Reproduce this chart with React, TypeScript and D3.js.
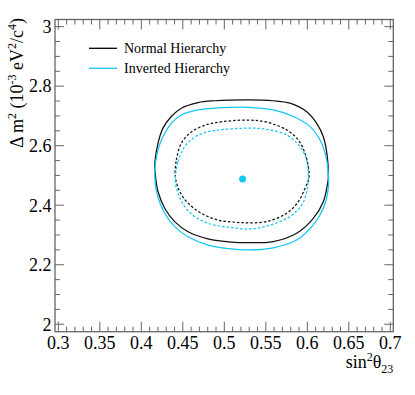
import React from "react";
import * as d3 from "d3";

// contour points: [sin^2 theta23, dm^2 (1e-3 eV^2)]
const normal90: [number, number][] = [
  [0.4169, 2.502], [0.4161, 2.53], [0.4201, 2.608], [0.4261, 2.659], [0.4361, 2.698],
  [0.4482, 2.726], [0.4683, 2.745], [0.4884, 2.751], [0.5286, 2.754], [0.559, 2.751],
  [0.5792, 2.743], [0.5993, 2.714], [0.6113, 2.675], [0.6193, 2.63], [0.6241, 2.563],
  [0.6253, 2.491], [0.6241, 2.468], [0.6193, 2.412], [0.6072, 2.356], [0.5872, 2.306],
  [0.559, 2.278], [0.5286, 2.274], [0.5084, 2.276], [0.4804, 2.287], [0.4563, 2.311],
  [0.4402, 2.345], [0.4282, 2.39], [0.4201, 2.446],
];
const inverted90: [number, number][] = [
  [0.4161, 2.502], [0.4201, 2.586], [0.4261, 2.63], [0.4361, 2.675], [0.4482, 2.703],
  [0.4683, 2.72], [0.4884, 2.726], [0.5286, 2.729], [0.559, 2.72], [0.5831, 2.698],
  [0.6033, 2.664], [0.6153, 2.619], [0.6225, 2.563], [0.6253, 2.507], [0.6253, 2.457],
  [0.6193, 2.39], [0.6072, 2.334], [0.5872, 2.283], [0.559, 2.257], [0.5286, 2.25],
  [0.5084, 2.253], [0.4804, 2.266], [0.4563, 2.294], [0.4402, 2.328], [0.4282, 2.373],
  [0.4193, 2.434],
];
const normal68: [number, number][] = [
  [0.441, 2.496], [0.4422, 2.552], [0.4482, 2.608], [0.4583, 2.642], [0.4723, 2.664],
  [0.4884, 2.677], [0.5286, 2.686], [0.5511, 2.679], [0.5752, 2.653], [0.5892, 2.619],
  [0.5972, 2.575], [0.6012, 2.53], [0.602, 2.491], [0.5972, 2.457], [0.5892, 2.412],
  [0.5752, 2.373], [0.5511, 2.345], [0.5286, 2.341], [0.5125, 2.343], [0.4924, 2.35],
  [0.4723, 2.373], [0.4563, 2.407], [0.4463, 2.446],
];
const inverted68: [number, number][] = [
  [0.441, 2.479], [0.4442, 2.546], [0.4523, 2.597], [0.4623, 2.625], [0.4743, 2.642],
  [0.4884, 2.651], [0.5286, 2.659], [0.5511, 2.655], [0.5752, 2.636], [0.5912, 2.597],
  [0.5993, 2.552], [0.6012, 2.496], [0.5993, 2.446], [0.5933, 2.401], [0.5792, 2.362],
  [0.5511, 2.33], [0.5286, 2.32], [0.5084, 2.325], [0.4843, 2.336], [0.4643, 2.362],
  [0.4523, 2.395], [0.4451, 2.434],
];
const bestFit: [number, number] = [0.522, 2.488];

const xMajor = [0.3, 0.35, 0.4, 0.45, 0.5, 0.55, 0.6, 0.65, 0.7];
const yMajor = [2, 2.2, 2.4, 2.6, 2.8, 3];
const xMinor = d3.range(30, 71).map((v) => v / 100);
const yMinor = d3.range(40, 61).map((v) => v / 20);

const legendItems = [
  { label: "Normal Hierarchy", color: "#000000" },
  { label: "Inverted Hierarchy", color: "#12c6f6" },
];

const W = 415;
const H = 395;
const frame = { left: 55, right: 393.3, top: 19.5, bottom: 331.7 };
const FONT = "'Liberation Serif', 'Times New Roman', serif";
const CYAN = "#12c6f6";

export default function App() {
  const x = d3.scaleLinear().domain([0.296, 0.7036]).range([frame.left, frame.right]);
  const y = d3.scaleLinear().domain([1.975, 3.024]).range([frame.bottom, frame.top]);

  const line = d3
    .line<[number, number]>()
    .x((d) => x(d[0]))
    .y((d) => y(d[1]))
    .curve(d3.curveCatmullRomClosed.alpha(0.5));

  const axisColor = "#666";

  return (
    <svg width={W} height={H} style={{ position: "absolute", left: 0, top: 0, background: "#fff" }}>
      <rect
        x={frame.left}
        y={frame.top}
        width={frame.right - frame.left}
        height={frame.bottom - frame.top}
        fill="none"
        stroke={axisColor}
        strokeWidth={1.3}
      />

      {/* ticks on all four sides, pointing in */}
      <g stroke={axisColor} strokeWidth={1}>
        {xMinor.map((v, i) => {
          const major = xMajor.some((m) => Math.abs(m - v) < 1e-6);
          const len = major ? 10 : 5;
          return (
            <g key={"xt" + i}>
              <line x1={x(v)} x2={x(v)} y1={frame.bottom} y2={frame.bottom - len} />
              <line x1={x(v)} x2={x(v)} y1={frame.top} y2={frame.top + len} />
            </g>
          );
        })}
        {yMinor.map((v, i) => {
          const major = yMajor.some((m) => Math.abs(m - v) < 1e-6);
          const len = major ? 9 : 5;
          return (
            <g key={"yt" + i}>
              <line x1={frame.left} x2={frame.left + len} y1={y(v)} y2={y(v)} />
              <line x1={frame.right} x2={frame.right - len} y1={y(v)} y2={y(v)} />
            </g>
          );
        })}
      </g>

      <g fontFamily={FONT} fontSize={18} fill="#000">
        {xMajor.map((v) => (
          <text key={"xl" + v} x={x(v)} y={349.3} textAnchor="middle">
            {String(v)}
          </text>
        ))}
        {yMajor.map((v) => (
          <text key={"yl" + v} x={51.5} y={y(v)} dy="0.35em" textAnchor="end">
            {String(v)}
          </text>
        ))}

        <text x={frame.right} y={368.3} textAnchor="end">
          sin
          <tspan fontSize={12} dy={-7}>2</tspan>
          <tspan fontSize={18} dy={7}>θ</tspan>
          <tspan fontSize={12} dy={5}>23</tspan>
        </text>

        <text transform="translate(22.5,18) rotate(-90)" textAnchor="end">
          Δ m<tspan fontSize={12} dy={-7}>2</tspan>
          <tspan dy={7}> (10</tspan>
          <tspan fontSize={12} dy={-7}>-3</tspan>
          <tspan dy={7}> eV</tspan>
          <tspan fontSize={12} dy={-7}>2</tspan>
          <tspan dy={7}>/c</tspan>
          <tspan fontSize={12} dy={-7}>4</tspan>
          <tspan dy={7}>)</tspan>
        </text>
      </g>

      <g fill="none" strokeWidth={1.25}>
        <path d={line(normal90) ?? ""} stroke="#111" />
        <path d={line(inverted90) ?? ""} stroke={CYAN} />
        <path d={line(normal68) ?? ""} stroke="#111" strokeDasharray="2.5,2" />
        <path d={line(inverted68) ?? ""} stroke={CYAN} strokeDasharray="2.5,2" />
      </g>
      <circle cx={x(bestFit[0])} cy={y(bestFit[1])} r={3.5} fill={CYAN} />

      <g fontFamily={FONT} fontSize={14}>
        {legendItems.map((item, i) => (
          <g key={item.label}>
            <line x1={89} x2={117} y1={48.3 + i * 20} y2={48.3 + i * 20} stroke={item.color} strokeWidth={1.3} />
            <text x={124} y={52.7 + i * 20} fill="#000">
              {item.label}
            </text>
          </g>
        ))}
      </g>
    </svg>
  );
}
